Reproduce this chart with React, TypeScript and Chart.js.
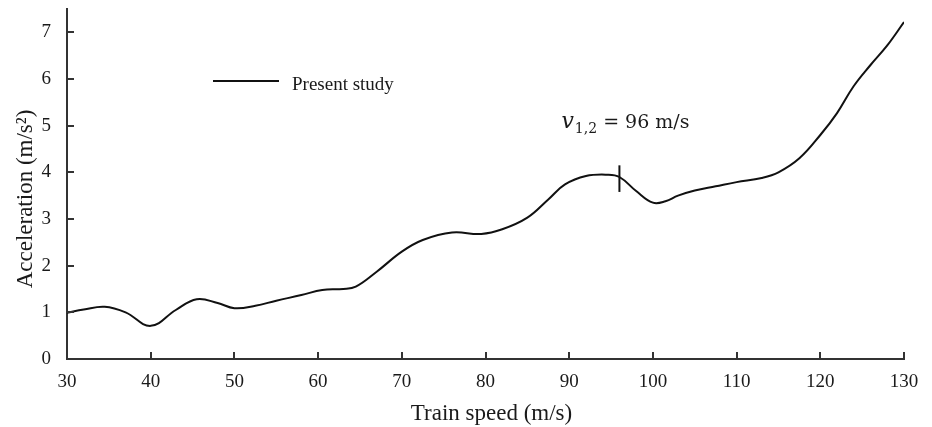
import React, { useEffect, useRef } from "react";
import { Chart, registerables } from "chart.js";

Chart.register(...registerables);

// ---- data ----
const speeds = [
  30, 32, 34.5, 37, 40, 43, 45.5, 48, 50, 52.5, 55, 58, 60.5, 63, 64.5, 67, 70,
  72.5, 76, 79.5, 82, 85, 87.5, 89.5, 92, 94.5, 96, 98, 100, 101.5, 103,
  105, 107.5, 110, 113, 115, 117.5, 120, 122, 124, 126, 128, 130,
];
const accelerations = [
  0.99, 1.06, 1.12, 1.0, 0.71, 1.05, 1.28, 1.2, 1.09, 1.14, 1.25, 1.37, 1.48,
  1.5, 1.55, 1.87, 2.3, 2.55, 2.71, 2.68, 2.78, 3.03, 3.42, 3.74, 3.92, 3.95,
  3.9, 3.6, 3.35, 3.38, 3.5, 3.61, 3.7, 3.79, 3.88, 4.0, 4.3, 4.8,
  5.27, 5.85, 6.3, 6.72, 7.22,
];
const markerSpeed = 96;
const markerRange = [3.58, 4.15];
const xTicks = [30, 40, 50, 60, 70, 80, 90, 100, 110, 120, 130];
const yTicks = [0, 1, 2, 3, 4, 5, 6, 7];
const xRange = [30, 130];
const yRange = [0, 7.5];
const seriesLabel = "Present study";
const xTitle = "Train speed (m/s)";
const yTitle = "Acceleration (m/s²)";
const annotVar = "v";
const annotSub = "1,2";
const annotRest = " = 96 m/s";

const SERIF = '"Liberation Serif", "Times New Roman", serif';
const TEXT = "#1a1a1a";
const AXIS = "#333333";

const decorPlugin = {
  id: "decor",
  afterDraw(chart: any) {
    const { ctx, chartArea, scales } = chart;
    const x = scales.x;
    const y = scales.y;
    ctx.save();
    // inward tick marks
    ctx.strokeStyle = AXIS;
    ctx.lineWidth = 2;
    ctx.beginPath();
    xTicks.forEach((v) => {
      if (v === xRange[0]) return;
      const px = Math.round(x.getPixelForValue(v));
      ctx.moveTo(px, chartArea.bottom);
      ctx.lineTo(px, chartArea.bottom - 7);
    });
    yTicks.forEach((v) => {
      if (v === yRange[0]) return;
      const py = Math.round(y.getPixelForValue(v));
      ctx.moveTo(chartArea.left, py);
      ctx.lineTo(chartArea.left + 7, py);
    });
    ctx.stroke();

    // axis titles
    ctx.fillStyle = TEXT;
    ctx.font = `23px ${SERIF}`;
    ctx.textAlign = "center";
    ctx.textBaseline = "alphabetic";
    ctx.fillText(xTitle, (chartArea.left + chartArea.right) / 2 + 6, 420);
    ctx.save();
    ctx.translate(32, (chartArea.top + chartArea.bottom) / 2 + 15);
    ctx.rotate(-Math.PI / 2);
    ctx.fillText(yTitle, 0, 0);
    ctx.restore();

    // legend
    const lx = chartArea.left + 146;
    const ly = chartArea.top + 72;
    ctx.strokeStyle = "#111";
    ctx.lineWidth = 2;
    ctx.beginPath();
    ctx.moveTo(lx, ly);
    ctx.lineTo(lx + 66, ly);
    ctx.stroke();
    ctx.font = `19px ${SERIF}`;
    ctx.textAlign = "left";
    ctx.fillText(seriesLabel, lx + 79, ly + 9);

    // annotation
    const ax = x.getPixelForValue(markerSpeed) - 58;
    const ay = y.getPixelForValue(markerRange[1]) - 37;
    const main = '"DejaVu Serif", serif';
    ctx.font = `italic 22px ${main}`;
    ctx.fillText(annotVar, ax, ay);
    let cx = ax + ctx.measureText(annotVar).width + 1;
    ctx.font = `14px ${main}`;
    ctx.fillText(annotSub, cx, ay + 5);
    cx += ctx.measureText(annotSub).width;
    ctx.font = `19px ${main}`;
    ctx.fillText(annotRest, cx, ay);
    ctx.restore();
  },
};

export default function App() {
  const canvasRef = useRef<HTMLCanvasElement | null>(null);

  useEffect(() => {
    document.body.style.margin = "0";
    const canvas = canvasRef.current;
    if (!canvas) return;
    const chart = new Chart(canvas, {
      type: "scatter",
      data: {
        datasets: [
          {
            label: seriesLabel,
            data: speeds.map((s, i) => ({ x: s, y: accelerations[i] })),
            showLine: true,
            borderColor: "#111111",
            borderWidth: 2,
            pointRadius: 0,
            tension: 0.4,
          },
          {
            label: "marker",
            data: markerRange.map((a) => ({ x: markerSpeed, y: a })),
            showLine: true,
            borderColor: "#111111",
            borderWidth: 2,
            pointRadius: 0,
          },
        ],
      },
      options: {
        animation: false,
        responsive: false,
        devicePixelRatio: 1,
        layout: { padding: { top: 9, right: 28, left: 0, bottom: 0 } },
        plugins: { legend: { display: false }, tooltip: { enabled: false } },
        scales: {
          x: {
            type: "linear",
            min: xRange[0],
            max: xRange[1],
            afterFit: (s: any) => {
              s.height = 68;
              s.paddingLeft = 0;
              s.paddingRight = 0;
            },
            grid: { display: false },
            border: { display: true, color: AXIS, width: 2 },
            ticks: {
              stepSize: 10,
              padding: 4,
              color: TEXT,
              font: { family: SERIF, size: 19 },
            },
          },
          y: {
            type: "linear",
            min: yRange[0],
            max: yRange[1],
            afterFit: (s: any) => {
              s.width = 67;
              s.paddingTop = 0;
              s.paddingBottom = 0;
            },
            grid: { display: false },
            border: { display: true, color: AXIS, width: 2 },
            ticks: {
              stepSize: 1,
              includeBounds: false,
              padding: 8,
              color: TEXT,
              font: { family: SERIF, size: 19 },
            },
          },
        },
      },
      plugins: [decorPlugin],
    } as any);
    return () => chart.destroy();
  }, []);

  return (
    <div style={{ width: 932, height: 427, background: "#fff" }}>
      <canvas ref={canvasRef} width={932} height={427} style={{ display: "block" }} />
    </div>
  );
}
